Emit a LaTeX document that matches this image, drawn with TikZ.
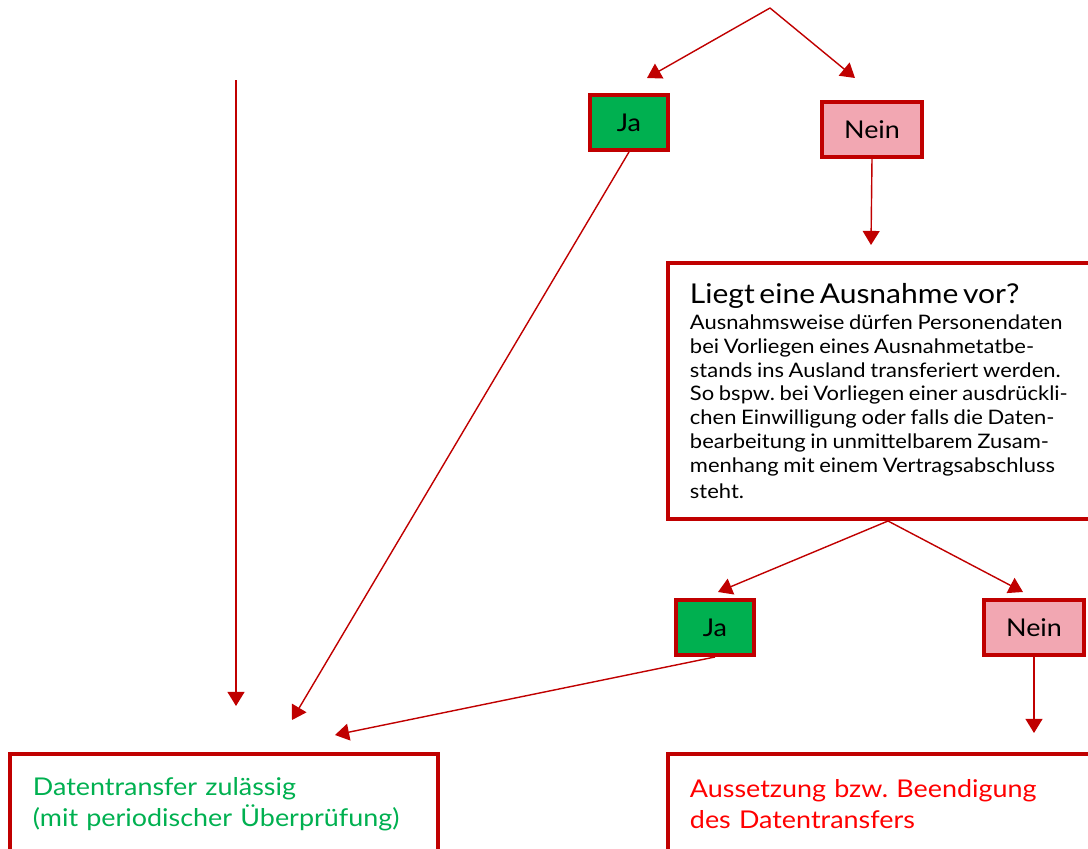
\documentclass[tikz,border=0pt]{standalone}
\usepackage{fontspec}
\setmainfont{Lato}[FakeStretch=1.1]
\usetikzlibrary{arrows.meta}
\definecolor{linered}{HTML}{C00000}
\definecolor{jagreen}{HTML}{00B050}
\definecolor{neinpink}{HTML}{F2A7B2}
\definecolor{okgreen}{HTML}{00B050}
\definecolor{stopred}{HTML}{FF0000}
\frenchspacing

\begin{document}
\begin{tikzpicture}[x=0.025cm, y=-0.025cm, thin,
    answer/.style={draw=linered, line width=2.8pt, minimum height=1.375cm,
      inner sep=0pt, font=\fontsize{17.4}{20}\selectfont},
    ja/.style={answer, fill=jagreen, minimum width=1.95cm},
    nein/.style={answer, fill=neinpink, minimum width=2.5cm},
    info/.style={draw=linered, line width=2.8pt, align=left, inner ysep=0pt},
    link/.style={draw=linered, line width=1pt, -{Triangle[length=10pt, width=12pt]}}]
    \useasboundingbox (0,0) rectangle (1088,849);
    \clip (0,0) rectangle (1088,849);

    % decision nodes
    \coordinate (top) at (770,8);
    \node[ja]   (ja1)   at (629,122.5) {Ja};
    \node[nein] (nein1) at (872,129.5) {Nein};
    \node[info, minimum width=11cm, minimum height=6.4cm, inner xsep=0.55cm,
      text width=9.9cm] (ausnahme) at (888,391)
      {{\fontsize{19.4}{21}\selectfont Liegt eine Ausnahme vor?}\\[1pt]
       \fontsize{14.2}{17}\selectfont
       Ausnahmsweise dürfen Personendaten\\
       bei Vorliegen eines Ausnahmetatbe-\\
       stands ins Ausland transferiert werden.\\
       So bspw. bei Vorliegen einer ausdrückli-\\
       chen Einwilligung oder falls die Daten-\\
       bearbeitung in unmittelbarem Zusam-\\
       menhang mit einem Vertragsabschluss\\[4pt]
       steht.};
    \node[ja]   (ja2)   at (715,627.5) {Ja};
    \node[nein] (nein2) at (1034,627.5) {Nein};

    % outcomes
    \node[info, minimum width=10.7cm, minimum height=2.5cm, inner xsep=0.575cm,
      text width=9.55cm, text=okgreen, font=\fontsize{17.4}{22}\selectfont]
      (zulaessig) at (224,804)
      {Datentransfer zulässig\\(mit periodischer Überprüfung)};
    \node[info, minimum width=11cm, minimum height=2.5cm, inner xsep=0.55cm,
      text width=9.9cm, text=stopred, font=\fontsize{17.4}{22}\selectfont]
      (aussetzung) at (888,804)
      {Aussetzung bzw. Beendigung\\des Datentransfers};

    % free arrow ends
    \coordinate (tipja1)   at (647,78);
    \coordinate (tipnein1) at (855,78);
    \coordinate (tipaus)   at (871,245);
    \coordinate (tipja2)   at (718,592);
    \coordinate (tipnein2) at (1023,592);
    \coordinate (leftfrom) at (236,80);
    \coordinate (lefttip)  at (236,706);
    \coordinate (okfromja1) at (292,720);
    \coordinate (okfromja2) at (335,735);
    \coordinate (tipstop)  at (1034,733);

    \draw[link] (top) -- (tipja1);
    \draw[link] (top) -- (tipnein1);
    \draw[link] (nein1.south) -- (tipaus);
    \draw[link] (ja1.south) -- (okfromja1);
    \draw[link] (ausnahme.south) -- (tipja2);
    \draw[link] (ausnahme.south) -- (tipnein2);
    \draw[link] (ja2.south) -- (okfromja2);
    \draw[link] (nein2.south) -- (tipstop);
    \draw[link] (leftfrom) -- (lefttip);
\end{tikzpicture}
\end{document}
